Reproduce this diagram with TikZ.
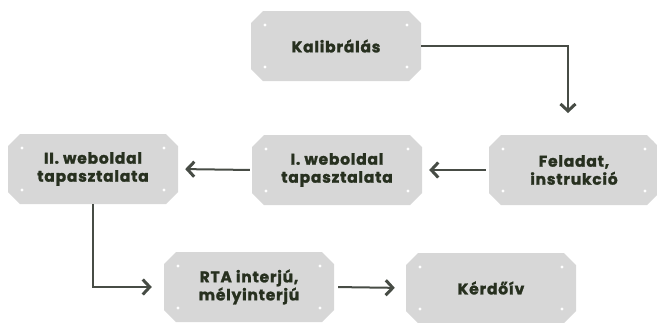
\documentclass[tikz,border=0pt]{standalone}
\usepackage{fontspec}
\newfontfamily\platefont{Poppins}[LetterSpace=5, BoldFeatures={FakeBold=1.5}]
\usetikzlibrary{shapes.misc, arrows.meta}
\definecolor{boxgray}{HTML}{D7D7D7}
\definecolor{boxtext}{HTML}{27301F}
\definecolor{linegray}{HTML}{474C45}
\tikzstyle{plate} = [chamfered rectangle, chamfered rectangle xsep=6pt, chamfered rectangle ysep=6pt, minimum width=170pt, minimum height=70pt, inner sep=0pt, align=center, fill=boxgray, text=boxtext, font=\platefont\bfseries\fontsize{15.5}{18}\selectfont,
  path picture={
    \fill[white] ([shift={(14pt,-14pt)}]path picture bounding box.north west) circle (1.6pt);
    \fill[white] ([shift={(-14pt,-14pt)}]path picture bounding box.north east) circle (1.6pt);
    \fill[white] ([shift={(14pt,14pt)}]path picture bounding box.south west) circle (1.6pt);
    \fill[white] ([shift={(-14pt,14pt)}]path picture bounding box.south east) circle (1.6pt);
  }]
\tikzstyle{arrow} = [line width=2pt, draw=linegray, -{Straight Barb[length=7pt, width=15pt, line width=3pt]}]

\begin{document}
\begin{tikzpicture}[x=1pt, y=1pt]
\useasboundingbox (0,0) rectangle (657,-322);

\node (kal) [plate] at (336,-46) {Kalibrálás};
\node (feladat) [plate] at (574,-170) {Feladat,\\instrukció};
\node (web1) [plate] at (337,-170) {I. weboldal\\tapasztalata};
\node (web2) [plate] at (93,-169) {II. weboldal\\tapasztalata};
\node (rta) [plate] at (249,-287) {RTA interjú,\\mélyinterjú};
\node (kerdo) [plate] at (491,-288) {Kérdőív};

\coordinate (kalend) at (568,-113);
\draw [arrow] (kal.east) -| (kalend);
\draw [arrow, shorten <=3pt, shorten >=7pt] (feladat.west) -- (web1.east);
\draw [arrow, shorten <=2pt, shorten >=7pt] (web1.west) -- (web2.east);
\draw [arrow, shorten >=12pt] (web2.south) |- (rta.west);
\draw [arrow, shorten <=4pt, shorten >=11pt] (rta.east) -- (kerdo.west);

\end{tikzpicture}
\end{document}
